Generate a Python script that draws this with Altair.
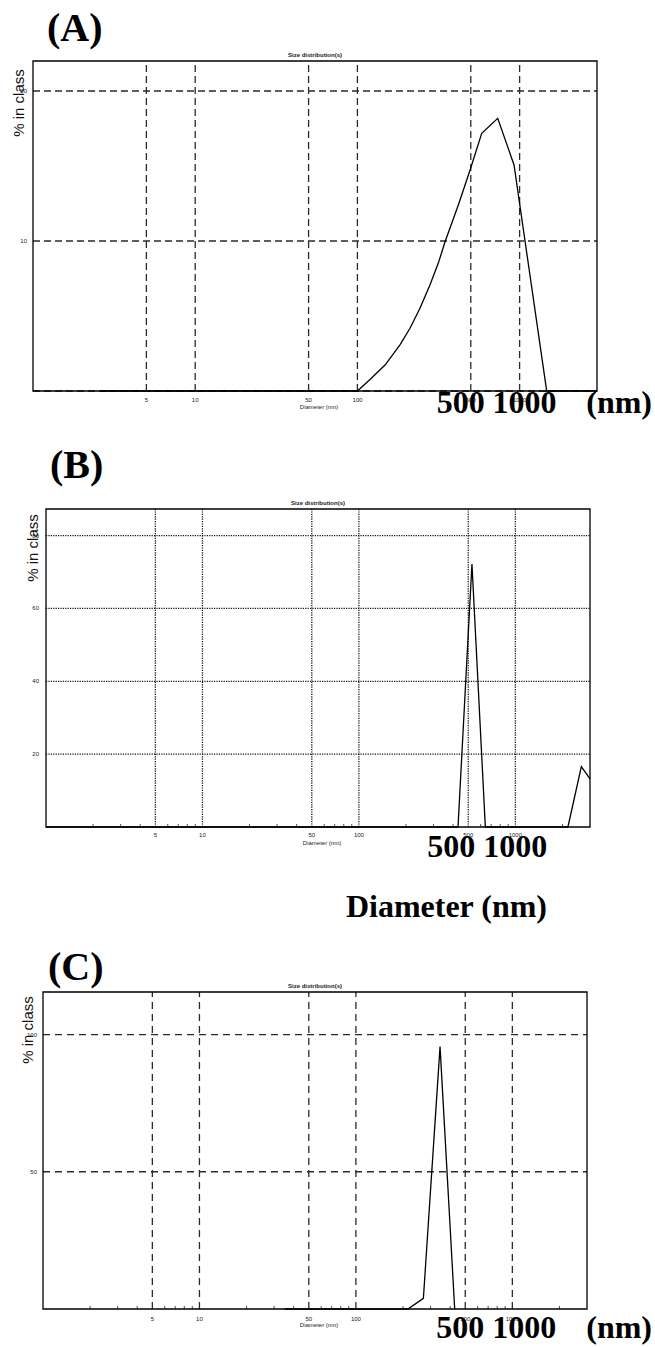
import altair as alt
import pandas as pd

# ---------------- data ----------------
X_DOMAIN = [1, 3000]
grid_x = [5, 10, 50, 100, 500, 1000]
grid_x_labels = ["5", "10", "50", "100", "500", "1000"]
minor_x = [2, 3, 4, 6, 7, 8, 9, 20, 30, 40, 60, 70, 80, 90,
           200, 300, 400, 600, 700, 800, 900, 2000]

# Panel A
a_diam = [2.6, 100, 120, 148, 183, 211, 243, 280, 315, 347, 419, 495, 584, 733, 924, 1469, 3000]
a_pct = [0, 0, 0.78, 1.73, 3.07, 4.18, 5.51, 7.07, 8.51, 9.95, 12.4, 14.73, 17.18, 18.18, 15.07, 0, 0]
a_grid_y = [0, 10, 20]
a_ylabels_v = [10, 20]
a_ylabels = ["10", "20"]

# Panel B
b_diam = [1, 430, 528, 643, 2168, 2641, 3000]
b_pct = [0, 0, 72.2, 0, 0, 16.6, 13.2]
b_grid_y = [20, 40, 60, 80]
b_ylabels_v = [20, 40, 60, 80]
b_ylabels = ["20", "40", "60", "80"]

# Panel C
c_diam = [35, 215, 270, 345, 428]
c_pct = [0, 0, 3.9, 95.6, 0]
c_grid_y = [50, 100]
c_ylabels_v = [50, 100]
c_ylabels = ["50", "100"]

panel_labels = ["(A)", "(B)", "(C)"]
big_tick_values = [500, 1000]
big_tick_labels = ["500", "1000"]

SANS = "Liberation Sans"
SERIF = "Liberation Serif"

# ---------------- geometry / style per panel ----------------
panels = [
    dict(label=panel_labels[0], diam=a_diam, pct=a_pct, gy=a_grid_y,
         ylv=a_ylabels_v, yl=a_ylabels, x0=33, x1=597, yb=391, yt=61, ymax=22.0,
         dash=[7, 4], gcolor="#2a2a2a", minor=False,
         lab_xy=(47, 41), big_y=413, big_dx=[-10, 5], nm_right=652,
         title_x=24, title_y=103, ylab_x=27, tick_dy=9, dtitle_dy=16),
    dict(label=panel_labels[1], diam=b_diam, pct=b_pct, gy=b_grid_y,
         ylv=b_ylabels_v, yl=b_ylabels, x0=46, x1=590, yb=827, yt=509, ymax=87.3,
         dash=[1.2, 1.2], gcolor="#111111", minor=True,
         lab_xy=(50, 478), big_y=857, big_dx=[-17, 0], nm_right=None,
         title_x=38, title_y=548, ylab_x=39, tick_dy=8, dtitle_dy=16),
    dict(label=panel_labels[2], diam=c_diam, pct=c_pct, gy=c_grid_y,
         ylv=c_ylabels_v, yl=c_ylabels, x0=43, x1=587, yb=1309, yt=992, ymax=115.5,
         dash=[7, 5], gcolor="#2a2a2a", minor=True,
         lab_xy=(48, 980), big_y=1338, big_dx=[-5, 12], nm_right=652,
         title_x=33, title_y=1030, ylab_x=37, tick_dy=10, dtitle_dy=16),
]

one = pd.DataFrame({"k": [0]})
layers = []

for p in panels:
    xs = alt.Scale(type="log", domain=X_DOMAIN, range=[p["x0"], p["x1"]], nice=False)
    ys = alt.Scale(type="linear", domain=[0, p["ymax"]], range=[p["yb"], p["yt"]], nice=False, zero=False)
    xc = (p["x0"] + p["x1"]) / 2

    # horizontal grid lines
    layers.append(
        alt.Chart(pd.DataFrame({"v": p["gy"]})).mark_rule(
            strokeDash=p["dash"], color=p["gcolor"], strokeWidth=1.3
        ).encode(
            x=alt.X(datum=X_DOMAIN[0], scale=xs, axis=None),
            x2=alt.X2(datum=X_DOMAIN[1]),
            y=alt.Y("v:Q", scale=ys, axis=None),
        )
    )
    # vertical grid lines
    layers.append(
        alt.Chart(pd.DataFrame({"v": grid_x})).mark_rule(
            strokeDash=p["dash"], color=p["gcolor"], strokeWidth=1.3
        ).encode(
            x=alt.X("v:Q", scale=xs, axis=None),
            y=alt.Y(datum=0, scale=ys, axis=None),
            y2=alt.Y2(datum=p["ymax"]),
        )
    )
    # minor ticks on the bottom axis
    if p["minor"]:
        layers.append(
            alt.Chart(pd.DataFrame({"v": minor_x})).mark_rule(
                color="#222222", strokeWidth=0.8
            ).encode(
                x=alt.X("v:Q", scale=xs, axis=None),
                y=alt.Y(datum=0, scale=ys, axis=None),
                y2=alt.value(p["yb"] - 3),
            )
        )
    # frame
    layers.append(
        alt.Chart(one).mark_rect(fillOpacity=0, stroke="black", strokeWidth=1.3).encode(
            x=alt.X(datum=X_DOMAIN[0], scale=xs, axis=None),
            x2=alt.X2(datum=X_DOMAIN[1]),
            y=alt.Y(datum=0, scale=ys, axis=None),
            y2=alt.Y2(datum=p["ymax"]),
        )
    )
    # data line
    layers.append(
        alt.Chart(pd.DataFrame({"d": p["diam"], "p": p["pct"]})).mark_line(
            color="black", strokeWidth=1.3
        ).encode(
            x=alt.X("d:Q", scale=xs, axis=None),
            y=alt.Y("p:Q", scale=ys, axis=None),
        )
    )
    # x tick labels (tiny)
    layers.append(
        alt.Chart(pd.DataFrame({"v": grid_x, "t": grid_x_labels})).mark_text(
            font=SANS, fontSize=6, color="#222222", baseline="middle", align="center"
        ).encode(
            x=alt.X("v:Q", scale=xs, axis=None),
            y=alt.value(p["yb"] + p["tick_dy"]),
            text="t:N",
        )
    )
    # y tick labels (tiny)
    layers.append(
        alt.Chart(pd.DataFrame({"v": p["ylv"], "t": p["yl"]})).mark_text(
            font=SANS, fontSize=6, color="#222222", baseline="middle", align="right"
        ).encode(
            x=alt.value(p["ylab_x"]),
            y=alt.Y("v:Q", scale=ys, axis=None),
            text="t:N",
        )
    )
    # small titles
    layers.append(
        alt.Chart(one).mark_text(
            font=SANS, fontSize=6, fontWeight="bold", color="#222222", align="center", baseline="middle"
        ).encode(x=alt.value(xc), y=alt.value(p["yt"] - 6), text=alt.value("Size distribution(s)"))
    )
    layers.append(
        alt.Chart(one).mark_text(
            font=SANS, fontSize=6, color="#222222", align="center", baseline="middle"
        ).encode(x=alt.value(xc + 4), y=alt.value(p["yb"] + p["dtitle_dy"]), text=alt.value("Diameter (nm)"))
    )
    # y-axis title
    layers.append(
        alt.Chart(one).mark_text(
            font=SANS, fontSize=15, color="#111111", angle=270, align="center", baseline="alphabetic"
        ).encode(x=alt.value(p["title_x"]), y=alt.value(p["title_y"]), text=alt.value("% in class"))
    )
    # panel label
    layers.append(
        alt.Chart(one).mark_text(
            font=SERIF, fontSize=40, fontWeight="bold", color="black", align="left", baseline="alphabetic"
        ).encode(x=alt.value(p["lab_xy"][0]), y=alt.value(p["lab_xy"][1]), text=alt.value(p["label"]))
    )
    # big "500 1000" labels
    for val, txt, dx in zip(big_tick_values, big_tick_labels, p["big_dx"]):
        layers.append(
            alt.Chart(pd.DataFrame({"v": [val], "t": [txt]})).mark_text(
                font=SERIF, fontSize=32, fontWeight="bold", color="black",
                align="center", baseline="alphabetic", dx=dx
            ).encode(
                x=alt.X("v:Q", scale=xs, axis=None),
                y=alt.value(p["big_y"]),
                text="t:N",
            )
        )
    if p["nm_right"] is not None:
        layers.append(
            alt.Chart(one).mark_text(
                font=SERIF, fontSize=32, fontWeight="bold", color="black", align="right", baseline="alphabetic"
            ).encode(x=alt.value(p["nm_right"]), y=alt.value(p["big_y"]), text=alt.value("(nm)"))
        )

# big "Diameter (nm)" between panels B and C
layers.append(
    alt.Chart(one).mark_text(
        font=SERIF, fontSize=32, fontWeight="bold", color="black", align="right", baseline="alphabetic"
    ).encode(x=alt.value(547), y=alt.value(917), text=alt.value("Diameter (nm)"))
)

chart = alt.layer(*layers).resolve_scale(x="independent", y="independent").properties(
    width=655, height=1347, padding=0, autosize="none", background="white"
).configure_view(stroke=None)

chart.save("out.html", embed_options={"renderer": "svg", "actions": False})
